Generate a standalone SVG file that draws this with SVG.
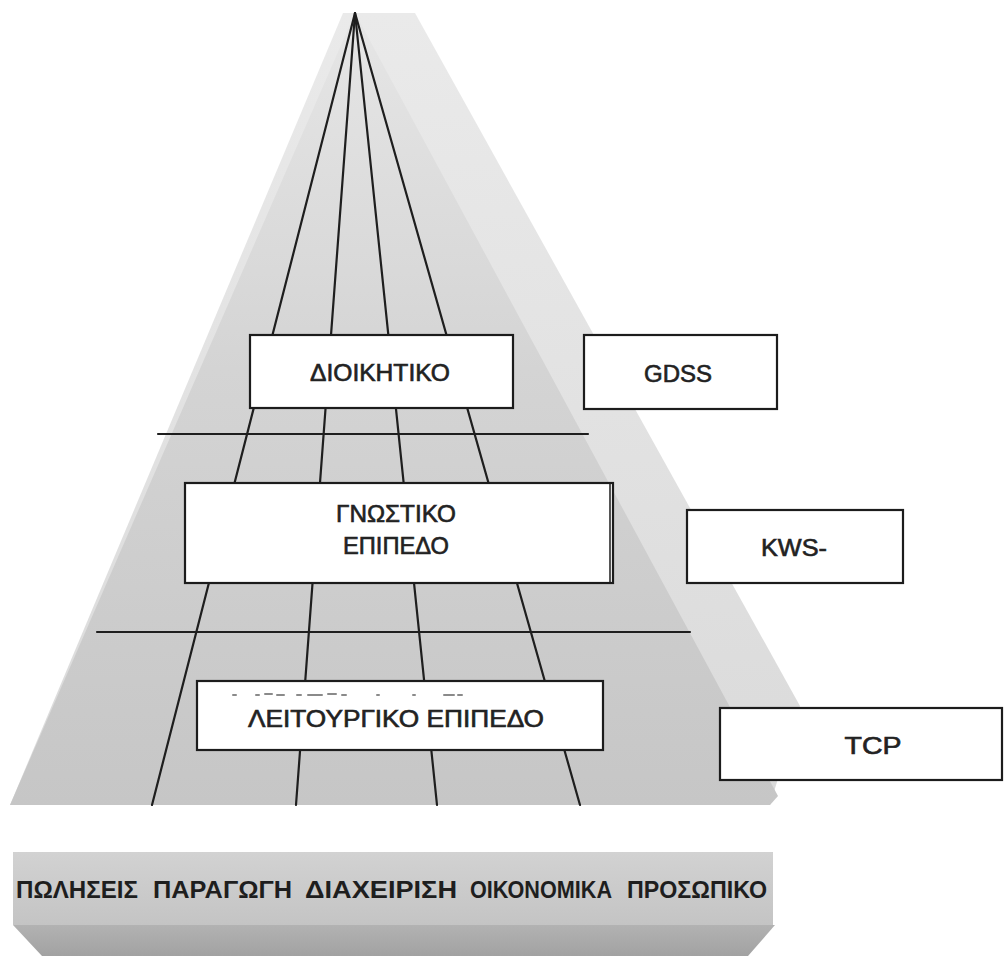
<svg xmlns="http://www.w3.org/2000/svg" width="1004" height="956" viewBox="0 0 1004 956">
  <defs>
    <linearGradient id="gFront" x1="0" y1="0" x2="0" y2="1">
      <stop offset="0" stop-color="#e6e6e6"/>
      <stop offset="0.45" stop-color="#d4d4d4"/>
      <stop offset="1" stop-color="#c6c6c6"/>
    </linearGradient>
    <linearGradient id="gSide" x1="0" y1="0" x2="0" y2="1">
      <stop offset="0" stop-color="#eaeaea"/>
      <stop offset="1" stop-color="#dadada"/>
    </linearGradient>
    <linearGradient id="gBase" x1="0" y1="0" x2="0" y2="1">
      <stop offset="0" stop-color="#d2d2d2"/>
      <stop offset="1" stop-color="#c4c4c4"/>
    </linearGradient>
    <linearGradient id="gBaseLow" x1="0" y1="0" x2="0" y2="1">
      <stop offset="0" stop-color="#b2b2b2"/>
      <stop offset="1" stop-color="#a2a2a2"/>
    </linearGradient>
    <style>
      .box { fill: #ffffff; stroke: #1c1c1c; stroke-width: 2.2; }
      .rule { stroke: #1e1e1e; stroke-width: 2.2; fill: none; stroke-linecap: round; }
      .lbl { font-family: "Liberation Sans", Arial, sans-serif; font-size: 23px; fill: #222222; stroke: #222222; stroke-width: 0.6; text-anchor: middle; }
      .base { font-family: "Liberation Sans", Arial, sans-serif; font-size: 24px; font-weight: bold; fill: #1e1e1e; }
      .smudge { stroke: #8a8a8a; stroke-width: 2; stroke-linecap: round; }
    </style>
  </defs>

  <rect width="1004" height="956" fill="#ffffff"/>

  <!-- pyramid faces: lighter side face behind, shaded front face on top -->
  <g id="pyramid">
    <polygon points="343,13 415,13 800,706 770,805 10,805" fill="url(#gSide)"/>
    <polygon points="355,13 778,796 770,805 10,805" fill="url(#gFront)"/>
  </g>

  <!-- connectors: rays from the apex and the level dividers -->
  <g id="connectors">
    <line class="rule" x1="355" y1="13" x2="152" y2="805"/>
    <line class="rule" x1="355" y1="13" x2="296" y2="805"/>
    <line class="rule" x1="355" y1="13" x2="437" y2="805"/>
    <line class="rule" x1="355" y1="13" x2="580" y2="805"/>
    <line class="rule" x1="158" y1="434" x2="588" y2="434"/>
    <line class="rule" x1="97" y1="632" x2="690" y2="632"/>
  </g>

  <g id="node-dioikitiko">
    <rect class="box" x="250" y="335" width="263" height="73"/>
    <text class="lbl" x="380" y="381" textLength="140" lengthAdjust="spacingAndGlyphs">ΔΙΟΙΚΗΤΙΚΟ</text>
  </g>

  <g id="node-gdss">
    <rect class="box" x="584" y="335" width="193" height="74"/>
    <text class="lbl" x="678" y="382" textLength="68" lengthAdjust="spacingAndGlyphs">GDSS</text>
  </g>

  <g id="node-gnostiko">
    <rect class="box" x="185" y="483" width="428" height="100"/>
    <line x1="610" y1="484" x2="610" y2="582" stroke="#1c1c1c" stroke-width="1.5"/>
    <text class="lbl" x="396" y="522" textLength="120" lengthAdjust="spacingAndGlyphs">ΓΝΩΣΤΙΚΟ</text>
    <text class="lbl" x="396" y="554" textLength="106" lengthAdjust="spacingAndGlyphs">ΕΠΙΠΕΔΟ</text>
  </g>

  <g id="node-kws">
    <rect class="box" x="687" y="510" width="216" height="73"/>
    <text class="lbl" x="794" y="556" textLength="66" lengthAdjust="spacingAndGlyphs">KWS-</text>
  </g>

  <g id="node-leitourgiko">
    <rect class="box" x="197" y="681" width="406" height="69"/>
    <g id="faint-marks">
      <line class="smudge" x1="233" y1="695" x2="236" y2="695"/>
      <line class="smudge" x1="256" y1="695" x2="259" y2="695"/>
      <line class="smudge" x1="265" y1="694" x2="272" y2="694"/>
      <line class="smudge" x1="277" y1="695" x2="284" y2="695"/>
      <line class="smudge" x1="297" y1="695" x2="301" y2="695"/>
      <line class="smudge" x1="308" y1="695" x2="322" y2="695"/>
      <line class="smudge" x1="328" y1="694" x2="336" y2="694"/>
      <line class="smudge" x1="342" y1="695" x2="346" y2="695"/>
      <line class="smudge" x1="377" y1="695" x2="379" y2="695"/>
      <line class="smudge" x1="413" y1="695" x2="415" y2="695"/>
      <line class="smudge" x1="444" y1="695" x2="454" y2="695"/>
      <line class="smudge" x1="458" y1="695" x2="462" y2="695"/>
    </g>
    <text class="lbl" x="396" y="727" textLength="296" lengthAdjust="spacingAndGlyphs">ΛΕΙΤΟΥΡΓΙΚΟ ΕΠΙΠΕΔΟ</text>
  </g>

  <g id="node-tcp">
    <rect class="box" x="720" y="708" width="282" height="72"/>
    <text class="lbl" x="873" y="754" textLength="57" lengthAdjust="spacingAndGlyphs">TCP</text>
  </g>

  <!-- functional base slab -->
  <g id="node-base">
    <rect x="13" y="852" width="760" height="73" fill="url(#gBase)"/>
    <polygon points="13,925 775,925 748,956 42,956" fill="url(#gBaseLow)"/>
    <text class="base" x="16" y="898" textLength="122" lengthAdjust="spacingAndGlyphs">ΠΩΛΗΣΕΙΣ</text>
    <text class="base" x="153" y="898" textLength="139" lengthAdjust="spacingAndGlyphs">ΠΑΡΑΓΩΓΗ</text>
    <text class="base" x="305" y="898" textLength="152" lengthAdjust="spacingAndGlyphs">ΔΙΑΧΕΙΡΙΣΗ</text>
    <text class="base" x="470" y="898" textLength="142" lengthAdjust="spacingAndGlyphs">ΟΙΚΟΝΟΜΙΚΑ</text>
    <text class="base" x="627" y="898" textLength="140" lengthAdjust="spacingAndGlyphs">ΠΡΟΣΩΠΙΚΟ</text>
  </g>
</svg>
